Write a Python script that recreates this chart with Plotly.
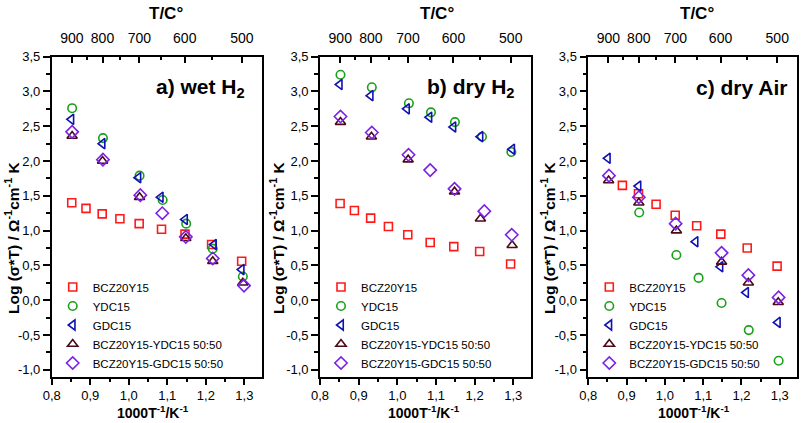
import plotly.graph_objects as go

# ---------------- data ----------------
series_names = ["BCZ20Y15", "YDC15", "GDC15", "BCZ20Y15-YDC15 50:50", "BCZ20Y15-GDC15 50:50"]

# panel a) wet H2
a_bcz_x = [0.852, 0.889, 0.931, 0.977, 1.027, 1.085, 1.146, 1.215, 1.293]
a_bcz_y = [1.40, 1.32, 1.24, 1.17, 1.10, 1.02, 0.95, 0.80, 0.56]
a_ydc_x = [0.853, 0.933, 1.028, 1.088, 1.149, 1.218, 1.296]
a_ydc_y = [2.76, 2.33, 1.79, 1.44, 1.10, 0.74, 0.34]
a_gdc_x = [0.851, 0.932, 1.025, 1.083, 1.146, 1.221, 1.293]
a_gdc_y = [2.60, 2.25, 1.76, 1.48, 1.16, 0.80, 0.44]
a_by_x = [0.853, 0.932, 1.028, 1.148, 1.218, 1.296]
a_by_y = [2.36, 2.00, 1.48, 0.89, 0.56, 0.25]
a_bg_x = [0.853, 0.933, 1.030, 1.087, 1.148, 1.218, 1.299]
a_bg_y = [2.42, 2.02, 1.51, 1.25, 0.91, 0.60, 0.21]

# panel b) dry H2
b_bcz_x = [0.852, 0.889, 0.931, 0.977, 1.027, 1.085, 1.146, 1.213, 1.293]
b_bcz_y = [1.39, 1.29, 1.18, 1.06, 0.94, 0.83, 0.77, 0.70, 0.52]
b_ydc_x = [0.853, 0.934, 1.030, 1.087, 1.149, 1.219, 1.295]
b_ydc_y = [3.24, 3.06, 2.83, 2.70, 2.56, 2.35, 2.13]
b_gdc_x = [0.851, 0.931, 1.025, 1.083, 1.145, 1.215, 1.297]
b_gdc_y = [3.10, 2.94, 2.75, 2.63, 2.49, 2.35, 2.17]
b_by_x = [0.853, 0.933, 1.028, 1.148, 1.215, 1.297]
b_by_y = [2.56, 2.35, 2.02, 1.56, 1.17, 0.79]
b_bg_x = [0.853, 0.934, 1.029, 1.085, 1.148, 1.225, 1.296]
b_bg_y = [2.64, 2.41, 2.09, 1.87, 1.60, 1.28, 0.94]

# panel c) dry Air
c_bcz_x = [0.889, 0.931, 0.977, 1.027, 1.083, 1.146, 1.215, 1.293]
c_bcz_y = [1.65, 1.53, 1.38, 1.22, 1.07, 0.95, 0.75, 0.49]
c_ydc_x = [0.933, 1.030, 1.088, 1.148, 1.219, 1.297]
c_ydc_y = [1.26, 0.65, 0.32, -0.04, -0.43, -0.87]
c_gdc_x = [0.851, 0.931, 1.080, 1.145, 1.212, 1.295]
c_gdc_y = [2.04, 1.64, 0.84, 0.48, 0.11, -0.32]
c_by_x = [0.853, 0.932, 1.030, 1.148, 1.218, 1.296]
c_by_y = [1.72, 1.40, 1.00, 0.55, 0.25, -0.03]
c_bg_x = [0.854, 0.932, 1.028, 1.148, 1.218, 1.297]
c_bg_y = [1.79, 1.48, 1.10, 0.68, 0.36, 0.04]

x_ticks = [0.8, 0.9, 1.0, 1.1, 1.2, 1.3]
x_tick_labels = ["0,8", "0,9", "1,0", "1,1", "1,2", "1,3"]
y_ticks = [-1.0, -0.5, 0.0, 0.5, 1.0, 1.5, 2.0, 2.5, 3.0, 3.5]
y_tick_labels = ["-1,0", "-0,5", "0,0", "0,5", "1,0", "1,5", "2,0", "2,5", "3,0", "3,5"]
temp_ticks = [900, 800, 700, 600, 500]
temp_minor = [850, 750, 650, 550]

panel_titles = ["a) wet H<sub>2</sub>", "b) dry H<sub>2</sub>", "c) dry Air"]

# ---------------- styling ----------------
W, H = 801, 423
FONT = "Liberation Sans, Arial, sans-serif"
colors = ["#ff1a1a", "#1aa01a", "#1010b4", "#4a0a18", "#7a22e6"]
symbols = ["square-open", "circle-open", "triangle-left-open", "triangle-up-open", "diamond-open"]
sizes = [8, 8.5, 9, 9, 9.5]

panels = [
    [(a_bcz_x, a_bcz_y), (a_ydc_x, a_ydc_y), (a_gdc_x, a_gdc_y), (a_by_x, a_by_y), (a_bg_x, a_bg_y)],
    [(b_bcz_x, b_bcz_y), (b_ydc_x, b_ydc_y), (b_gdc_x, b_gdc_y), (b_by_x, b_by_y), (b_bg_x, b_bg_y)],
    [(c_bcz_x, c_bcz_y), (c_ydc_x, c_ydc_y), (c_gdc_x, c_gdc_y), (c_by_x, c_by_y), (c_bg_x, c_bg_y)],
]

# pixel geometry of the three plot frames
frames_px = [(51.7, 261.7), (320.0, 530.7), (588.3, 797.0)]
top_px, bot_px = 56.7, 376.7
x_range = [0.8, 1.345]
y_range = [-1.1, 3.5]

fig = go.Figure()
legend_ids = ["legend", "legend2", "legend3"]

for p, data in enumerate(panels):
    xa = "x" if p == 0 else f"x{p + 1}"
    ya = "y" if p == 0 else f"y{p + 1}"
    for s, (xs, ys) in enumerate(data):
        fig.add_trace(go.Scatter(
            x=xs, y=ys, mode="markers", name=series_names[s],
            xaxis=xa, yaxis=ya, legend=legend_ids[p],
            marker=dict(symbol=symbols[s], size=sizes[s], color=colors[s],
                        line=dict(width=1.6, color=colors[s])),
        ))
    # invisible trace to activate top temperature axis
    fig.add_trace(go.Scatter(x=[None], y=[None], xaxis=f"x{p + 4}", yaxis=ya,
                             showlegend=False, hoverinfo="skip"))

layout = dict(
    width=W, height=H, autosize=False,
    margin=dict(l=0, r=0, t=0, b=0, pad=0, autoexpand=False),
    paper_bgcolor="white", plot_bgcolor="white",
    font=dict(family=FONT, color="black", size=13),
    showlegend=True,
)

ydom = [1 - bot_px / H, 1 - top_px / H]
for p, (l, r) in enumerate(frames_px):
    sfx = "" if p == 0 else str(p + 1)
    ya = "y" if p == 0 else f"y{p + 1}"
    xa = "x" if p == 0 else f"x{p + 1}"
    layout[f"xaxis{sfx}"] = dict(
        domain=[l / W, r / W], anchor=ya, range=x_range,
        tickmode="array", tickvals=x_ticks, ticktext=x_tick_labels,
        ticks="outside", ticklen=6, tickwidth=1.5, tickcolor="black",
        minor=dict(tickmode="linear", tick0=0.8, dtick=0.05, ticks="outside",
                   ticklen=3.5, tickwidth=1.5, tickcolor="black"),
        showline=True, linewidth=1.6, linecolor="black", mirror=True,
        showgrid=False, zeroline=False, tickfont=dict(size=13), automargin=False,
    )
    layout[f"yaxis{sfx}"] = dict(
        domain=ydom, anchor=xa, range=y_range,
        tickmode="array", tickvals=y_ticks, ticktext=y_tick_labels,
        ticks="outside", ticklen=7, tickwidth=1.5, tickcolor="black",
        minor=dict(tickmode="linear", tick0=0.0, dtick=0.25, ticks="outside",
                   ticklen=4, tickwidth=1.5, tickcolor="black"),
        showline=True, linewidth=1.6, linecolor="black", mirror=True,
        showgrid=False, zeroline=False, tickfont=dict(size=13), automargin=False,
    )
    layout[f"xaxis{p + 4}"] = dict(
        overlaying=xa, side="top", anchor=ya, range=x_range,
        tickmode="array", tickvals=[1000 / (t + 273.15) for t in temp_ticks],
        ticktext=[str(t) for t in temp_ticks],
        ticks="inside", ticklen=6, tickwidth=1.5, tickcolor="black",
        minor=dict(tickmode="array", tickvals=[1000 / (t + 273.15) for t in temp_minor],
                   ticks="inside", ticklen=3.5, tickwidth=1.5, tickcolor="black"),
        showline=False, showgrid=False, zeroline=False, automargin=False,
        ticklabelstandoff=10, tickfont=dict(size=14),
    )
    layout[legend_ids[p]] = dict(
        x=(l + 1) / W, xanchor="left", y=1 - 325 / H, yanchor="middle",
        bgcolor="rgba(0,0,0,0)", borderwidth=0,
        font=dict(family=FONT, size=11.5, color="black"),
    )

fig.update_layout(**layout)

# titles as annotations
top_title_x = [166, 437, 697]
ytitle_x = [12, 277, 548]
xtitle_x = [153, 424, 694]
label_right = [247, 517, 789]
for p in range(3):
    fig.add_annotation(text="<b>T/C°</b>", xref="paper", yref="paper",
                       x=top_title_x[p] / W, y=1 - 13 / H, showarrow=False,
                       xanchor="center", yanchor="middle", font=dict(size=17))
    fig.add_annotation(text="<b>Log (σ*T) / Ω<sup>-1</sup>cm<sup>-1</sup> K</b>",
                       xref="paper", yref="paper", x=ytitle_x[p] / W, y=1 - 238 / H,
                       showarrow=False, textangle=-90, xanchor="center", yanchor="middle",
                       font=dict(size=15.5))
    fig.add_annotation(text="<b>1000T<sup>-1</sup>/K<sup>-1</sup></b>",
                       xref="paper", yref="paper", x=xtitle_x[p] / W, y=1 - 412 / H,
                       showarrow=False, xanchor="center", yanchor="middle",
                       font=dict(size=14))
    fig.add_annotation(text=f"<b>{panel_titles[p]}</b>",
                       xref="paper", yref="paper", x=label_right[p] / W, y=1 - 88 / H,
                       showarrow=False, xanchor="right", yanchor="middle",
                       font=dict(size=21))

fig.write_html("out.html", config={"displayModeBar": False},
               post_script="document.body.style.margin='0';document.body.style.overflow='hidden';")
